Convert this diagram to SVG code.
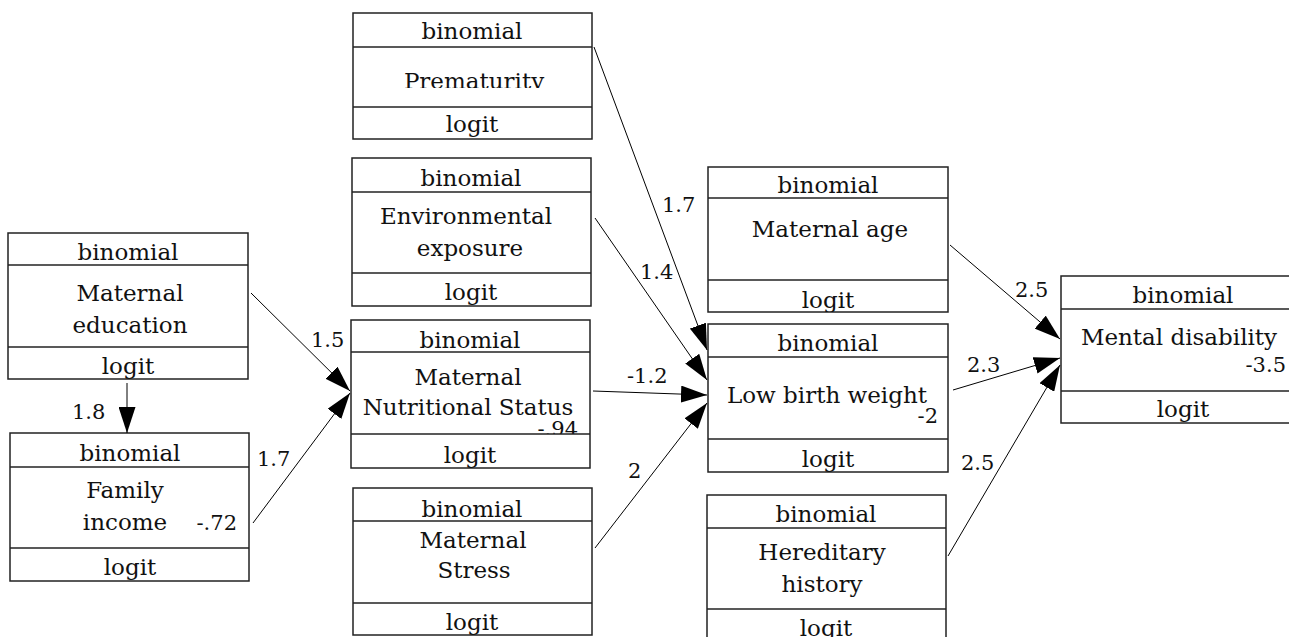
<svg xmlns="http://www.w3.org/2000/svg" width="1289" height="637" viewBox="0 0 1289 637">
<style>
text{font-family:"DejaVu Serif","Liberation Serif",serif;font-size:23px;fill:#111}
.c{text-anchor:middle}
.e{text-anchor:end}
.n{font-size:21px}
.box{fill:#fff;stroke:#222;stroke-width:1.5}
.div{stroke:#222;stroke-width:1.5}
.edge{stroke:#000;stroke-width:1;fill:none;marker-end:url(#ah)}
</style>
<defs>
<marker id="ah" markerUnits="userSpaceOnUse" markerWidth="26" markerHeight="17" viewBox="0 0 26 17" refX="26" refY="8.5" orient="auto">
<path d="M0,0 L26,8.5 L0,17 Z" fill="#000"/>
</marker>
<clipPath id="clipPre"><rect x="353" y="47" width="239" height="41"/></clipPath>
<clipPath id="clipMns"><rect x="351" y="352" width="239" height="82"/></clipPath>
<clipPath id="clipAge"><rect x="708" y="280" width="240" height="32"/></clipPath>
</defs>
<rect width="1289" height="637" fill="#fff"/>

<g id="matEdu">
<rect class="box" x="8" y="233" width="240" height="146"/>
<line class="div" x1="8" y1="265" x2="248" y2="265"/>
<line class="div" x1="8" y1="347" x2="248" y2="347"/>
<text class="c" x="128" y="260">binomial</text>
<text class="c" x="130" y="301">Maternal</text>
<text class="c" x="130" y="333">education</text>
<text class="c" x="128" y="374">logit</text>
</g>

<g id="famInc">
<rect class="box" x="10" y="433" width="239" height="148"/>
<line class="div" x1="10" y1="467" x2="249" y2="467"/>
<line class="div" x1="10" y1="548" x2="249" y2="548"/>
<text class="c" x="130" y="461">binomial</text>
<text class="c" x="125" y="498">Family</text>
<text class="c" x="125" y="530">income</text>
<text class="e n" x="237" y="530">-.72</text>
<text class="c" x="130" y="575">logit</text>
</g>

<g id="prematurity">
<rect class="box" x="353" y="13" width="239" height="126"/>
<line class="div" x1="353" y1="47" x2="592" y2="47"/>
<line class="div" x1="353" y1="107" x2="592" y2="107"/>
<text class="c" x="472" y="39">binomial</text>
<text class="c" x="474" y="89" clip-path="url(#clipPre)">Prematurity</text>
<text class="c" x="472" y="132">logit</text>
</g>

<g id="envExp">
<rect class="box" x="352" y="158" width="239" height="148"/>
<line class="div" x1="352" y1="192" x2="591" y2="192"/>
<line class="div" x1="352" y1="273" x2="591" y2="273"/>
<text class="c" x="471" y="186">binomial</text>
<text class="c" x="466" y="224">Environmental</text>
<text class="c" x="470" y="256">exposure</text>
<text class="c" x="471" y="300">logit</text>
</g>

<g id="matNut">
<rect class="box" x="351" y="320" width="239" height="148"/>
<line class="div" x1="351" y1="352" x2="590" y2="352"/>
<text class="c" x="470" y="348">binomial</text>
<text class="c" x="468" y="385">Maternal</text>
<text class="c" x="468" y="415">Nutritional Status</text>
<text class="e n" x="578" y="436" clip-path="url(#clipMns)">-.94</text>
<line class="div" x1="351" y1="434" x2="590" y2="434"/>
<text class="c" x="470" y="463">logit</text>
</g>

<g id="matStress">
<rect class="box" x="353" y="488" width="239" height="147"/>
<line class="div" x1="353" y1="521" x2="592" y2="521"/>
<line class="div" x1="353" y1="603" x2="592" y2="603"/>
<text class="c" x="472" y="517">binomial</text>
<text class="c" x="473" y="548">Maternal</text>
<text class="c" x="474" y="578">Stress</text>
<text class="c" x="472" y="630">logit</text>
</g>

<g id="matAge">
<rect class="box" x="708" y="167" width="240" height="145"/>
<line class="div" x1="708" y1="198" x2="948" y2="198"/>
<line class="div" x1="708" y1="280" x2="948" y2="280"/>
<text class="c" x="828" y="193">binomial</text>
<text class="c" x="830" y="237">Maternal age</text>
<text class="c" x="828" y="308" clip-path="url(#clipAge)">logit</text>
</g>

<g id="lowBirth">
<rect class="box" x="708" y="324" width="240" height="148"/>
<line class="div" x1="708" y1="357" x2="948" y2="357"/>
<line class="div" x1="708" y1="439" x2="948" y2="439"/>
<text class="c" x="828" y="351">binomial</text>
<text class="c" x="827" y="403">Low birth weight</text>
<text class="e n" x="938" y="423">-2</text>
<text class="c" x="828" y="467">logit</text>
</g>

<g id="hered">
<rect class="box" x="707" y="495" width="239" height="150"/>
<line class="div" x1="707" y1="528" x2="946" y2="528"/>
<line class="div" x1="707" y1="609" x2="946" y2="609"/>
<text class="c" x="826" y="522">binomial</text>
<text class="c" x="822" y="560">Hereditary</text>
<text class="c" x="822" y="592">history</text>
<text class="c" x="826" y="636">logit</text>
</g>

<g id="mental">
<rect class="box" x="1061" y="276" width="260" height="147"/>
<line class="div" x1="1061" y1="309" x2="1321" y2="309"/>
<line class="div" x1="1061" y1="391" x2="1321" y2="391"/>
<text class="c" x="1183" y="303">binomial</text>
<text class="c" x="1179" y="345">Mental disability</text>
<text class="e n" x="1286" y="372">-3.5</text>
<text class="c" x="1183" y="417">logit</text>
</g>

<g id="connectors">
<line class="edge" x1="127" y1="383" x2="127" y2="433"/>
<line class="edge" x1="251" y1="293" x2="350" y2="391"/>
<line class="edge" x1="253" y1="523" x2="350" y2="393"/>
<line class="edge" x1="594" y1="47" x2="707" y2="350"/>
<line class="edge" x1="595" y1="218" x2="707" y2="380"/>
<line class="edge" x1="593" y1="391" x2="707" y2="395"/>
<line class="edge" x1="595" y1="548" x2="707" y2="403"/>
<line class="edge" x1="950" y1="245" x2="1060" y2="339"/>
<line class="edge" x1="953" y1="390" x2="1060" y2="358"/>
<line class="edge" x1="948" y1="556" x2="1060" y2="365"/>
<text class="n" x="72" y="419">1.8</text>
<text class="n" x="311" y="347">1.5</text>
<text class="n" x="257" y="466">1.7</text>
<text class="n" x="662" y="212">1.7</text>
<text class="n" x="640" y="279">1.4</text>
<text class="n" x="627" y="383">-1.2</text>
<text class="n" x="628" y="478">2</text>
<text class="n" x="1015" y="297">2.5</text>
<text class="n" x="967" y="372">2.3</text>
<text class="n" x="961" y="470">2.5</text>
</g>
</svg>
